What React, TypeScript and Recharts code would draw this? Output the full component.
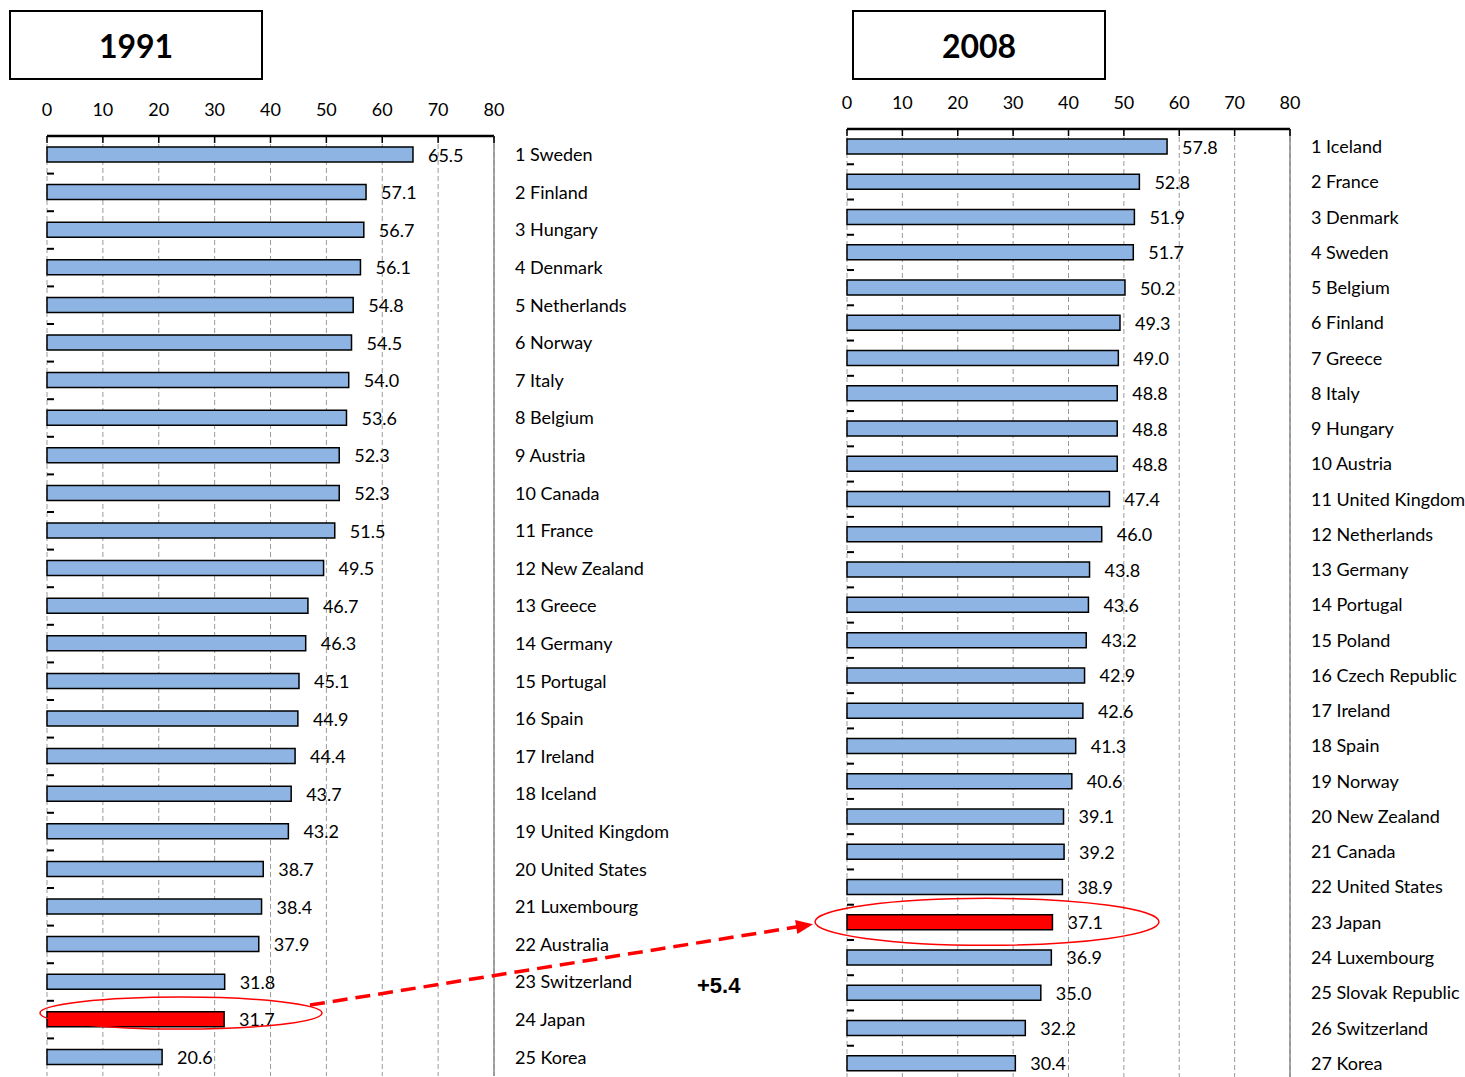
import React from 'react';
import { BarChart, Bar, XAxis, YAxis, CartesianGrid, Cell, LabelList } from 'recharts';

// Ranking data, 1991
const countries1991 = [
  'Sweden', 'Finland', 'Hungary', 'Denmark', 'Netherlands', 'Norway', 'Italy', 'Belgium',
  'Austria', 'Canada', 'France', 'New Zealand', 'Greece', 'Germany', 'Portugal', 'Spain',
  'Ireland', 'Iceland', 'United Kingdom', 'United States', 'Luxembourg', 'Australia',
  'Switzerland', 'Japan', 'Korea',
];
const values1991 = [
  65.5, 57.1, 56.7, 56.1, 54.8, 54.5, 54.0, 53.6, 52.3, 52.3, 51.5, 49.5, 46.7, 46.3, 45.1,
  44.9, 44.4, 43.7, 43.2, 38.7, 38.4, 37.9, 31.8, 31.7, 20.6,
];

// Ranking data, 2008
const countries2008 = [
  'Iceland', 'France', 'Denmark', 'Sweden', 'Belgium', 'Finland', 'Greece', 'Italy', 'Hungary',
  'Austria', 'United Kingdom', 'Netherlands', 'Germany', 'Portugal', 'Poland', 'Czech Republic',
  'Ireland', 'Spain', 'Norway', 'New Zealand', 'Canada', 'United States', 'Japan', 'Luxembourg',
  'Slovak Republic', 'Switzerland', 'Korea',
];
const values2008 = [
  57.8, 52.8, 51.9, 51.7, 50.2, 49.3, 49.0, 48.8, 48.8, 48.8, 47.4, 46.0, 43.8, 43.6, 43.2,
  42.9, 42.6, 41.3, 40.6, 39.1, 39.2, 38.9, 37.1, 36.9, 35.0, 32.2, 30.4,
];

const axisTicks = [0, 10, 20, 30, 40, 50, 60, 70, 80];
const highlighted = 'Japan';

const FONT = 'Lato, "Open Sans", sans-serif';
const BAR_BLUE = '#8DB4E2';
const RED = '#FF0000';

type Geometry = {
  x0: number; // left of chart svg in page
  width: number;
  height: number;
  plotLeft: number;
  plotRight: number;
  plotTop: number;
  plotBottom: number;
  labelWidth: number;
};

const leftGeom: Geometry = {
  x0: 0, width: 700, height: 1077,
  plotLeft: 47, plotRight: 494, plotTop: 136, plotBottom: 1076, labelWidth: 190,
};
const rightGeom: Geometry = {
  x0: 800, width: 665, height: 1082,
  plotLeft: 847, plotRight: 1290, plotTop: 129, plotBottom: 1081, labelWidth: 170,
};

function Panel({ countries, values, g }: { countries: string[]; values: number[]; g: Geometry }) {
  const data = countries.map((c, i) => ({
    name: `${i + 1} ${c}`,
    country: c,
    value: values[i],
  }));
  const band = (g.plotBottom - g.plotTop) / data.length;
  const localLeft = g.plotLeft - g.x0;
  const localTop = g.plotTop;
  const margin = {
    top: g.plotTop - 30,
    left: localLeft,
    right: g.x0 + g.width - g.plotRight - g.labelWidth,
    bottom: g.height - g.plotBottom,
  };

  const topTick = (p: any) => (
    <g>
      <text
        x={p.x}
        y={localTop - 20}
        textAnchor="middle"
        fontFamily={FONT}
        fontSize={18}
        fill="#000"
      >
        {p.payload.value}
      </text>
      <line x1={p.x} x2={p.x} y1={localTop} y2={localTop + 7} stroke="#000" strokeWidth={1.5} />
    </g>
  );

  const valueLabel = (p: any) => (
    <text
      x={p.x + p.width + 15}
      y={p.y + p.height / 2 + 7}
      textAnchor="start"
      fontFamily={FONT}
      fontSize={18}
      fill="#000"
    >
      {Number(p.value).toFixed(1)}
    </text>
  );

  // short marks on the left axis at the boundaries between categories
  const boundaries = data.slice(1).map((_, i) => g.plotTop + (i + 1) * band);

  return (
    <div style={{ position: 'absolute', left: g.x0, top: 0 }}>
      <BarChart
        width={g.width}
        height={g.height}
        data={data}
        layout="vertical"
        margin={margin}
        barCategoryGap={0}
      >
        <CartesianGrid horizontal={false} stroke="#9a9a9a" strokeDasharray="5 3" />
        <XAxis
          type="number"
          orientation="top"
          domain={[0, 80]}
          ticks={axisTicks}
          height={30}
          tickSize={0}
          tickMargin={0}
          tickLine={false}
          tick={topTick}
          axisLine={{ stroke: '#000', strokeWidth: 2.5 }}
          interval={0}
        />
        <XAxis
          xAxisId="bottom"
          type="number"
          orientation="bottom"
          domain={[0, 80]}
          height={0}
          tick={false}
          tickLine={false}
          axisLine={{ stroke: '#8a8a8a', strokeWidth: 1.5 }}
        />
        <YAxis
          type="category"
          dataKey="name"
          orientation="left"
          width={0}
          tickLine={false}
          tick={false}
          axisLine={{ stroke: '#000', strokeWidth: 2.5 }}
        />
        <YAxis
          yAxisId="labels"
          type="category"
          dataKey="name"
          orientation="right"
          width={g.labelWidth}
          tickLine={false}
          tickSize={0}
          tickMargin={21}
          interval={0}
          axisLine={{ stroke: '#8a8a8a', strokeWidth: 1.5 }}
          tick={{ fontFamily: FONT, fontSize: 18, fill: '#000', textAnchor: 'start' }}
        />
        <Bar dataKey="value" barSize={15} stroke="#000" strokeWidth={1.5} isAnimationActive={false}>
          {data.map((d) => (
            <Cell key={d.name} fill={d.country === highlighted ? RED : BAR_BLUE} />
          ))}
          <LabelList dataKey="value" content={valueLabel} />
        </Bar>
      </BarChart>
      <svg
        width={20}
        height={g.height}
        style={{ position: 'absolute', left: localLeft, top: 0, pointerEvents: 'none' }}
      >
        {boundaries.map((y) => (
          <line key={y} x1={0} x2={7} y1={y} y2={y} stroke="#000" strokeWidth={2} />
        ))}
      </svg>
    </div>
  );
}

function YearBox({ left, label }: { left: number; label: string }) {
  return (
    <div
      style={{
        position: 'absolute',
        left,
        top: 10,
        width: 254,
        height: 70,
        boxSizing: 'border-box',
        border: '2px solid #000',
        display: 'flex',
        alignItems: 'center',
        justifyContent: 'center',
        fontFamily: FONT,
        fontWeight: 700,
        fontSize: 32,
        color: '#000',
        background: '#fff',
      }}
    >
      {label}
    </div>
  );
}

// Ring around the highlighted country's bar and an arrow between the two years
function Highlight() {
  const i1 = countries1991.indexOf(highlighted);
  const i2 = countries2008.indexOf(highlighted);
  const band1 = (leftGeom.plotBottom - leftGeom.plotTop) / countries1991.length;
  const band2 = (rightGeom.plotBottom - rightGeom.plotTop) / countries2008.length;
  const y1 = leftGeom.plotTop + (i1 + 0.5) * band1;
  const y2 = rightGeom.plotTop + (i2 + 0.5) * band2;

  const e1 = { cx: leftGeom.plotLeft + 134, cy: y1 - 6.5, rx: 141, ry: 16 };
  const e2 = { cx: rightGeom.plotLeft + 140, cy: y2 - 0.5, rx: 172, ry: 23.5 };

  const start = { x: e1.cx + 129, y: e1.cy - 8 };
  const tip = { x: e2.cx - e2.rx - 2, y: e2.cy + 2.5 };
  const dx = tip.x - start.x;
  const dy = tip.y - start.y;
  const len = Math.hypot(dx, dy);
  const ux = dx / len;
  const uy = dy / len;
  const nx = -uy;
  const ny = ux;
  const headLen = 17;
  const headHalf = 7;
  const base = { x: tip.x - headLen * ux, y: tip.y - headLen * uy };
  const head = [
    `${tip.x},${tip.y}`,
    `${base.x + headHalf * nx},${base.y + headHalf * ny}`,
    `${base.x - headHalf * nx},${base.y - headHalf * ny}`,
  ].join(' ');

  const diff = values2008[i2] - values1991[i1];
  const diffText = `${diff >= 0 ? '+' : ''}${diff.toFixed(1)}`;

  return (
    <svg
      width={1465}
      height={1077}
      style={{ position: 'absolute', left: 0, top: 0, pointerEvents: 'none' }}
    >
      <ellipse cx={e1.cx} cy={e1.cy} rx={e1.rx} ry={e1.ry} fill="none" stroke={RED} strokeWidth={1.5} />
      <ellipse cx={e2.cx} cy={e2.cy} rx={e2.rx} ry={e2.ry} fill="none" stroke={RED} strokeWidth={1.5} />
      <line
        x1={start.x}
        y1={start.y}
        x2={tip.x - (headLen - 3) * ux}
        y2={tip.y - (headLen - 3) * uy}
        stroke={RED}
        strokeWidth={3.5}
        strokeDasharray="15 8"
      />
      <polygon points={head} fill={RED} />
      <text
        x={697}
        y={993}
        fontFamily='"Liberation Sans", Arial, sans-serif'
        fontWeight={700}
        fontSize={22}
        fill="#000"
      >
        {diffText}
      </text>
    </svg>
  );
}

export default function App() {
  return (
    <div
      style={{
        position: 'absolute',
        left: 0,
        top: 0,
        width: 1465,
        height: 1077,
        overflow: 'hidden',
        background: '#fff',
      }}
    >
      <Panel countries={countries1991} values={values1991} g={leftGeom} />
      <Panel countries={countries2008} values={values2008} g={rightGeom} />
      <YearBox left={9} label="1991" />
      <YearBox left={852} label="2008" />
      <Highlight />
    </div>
  );
}
